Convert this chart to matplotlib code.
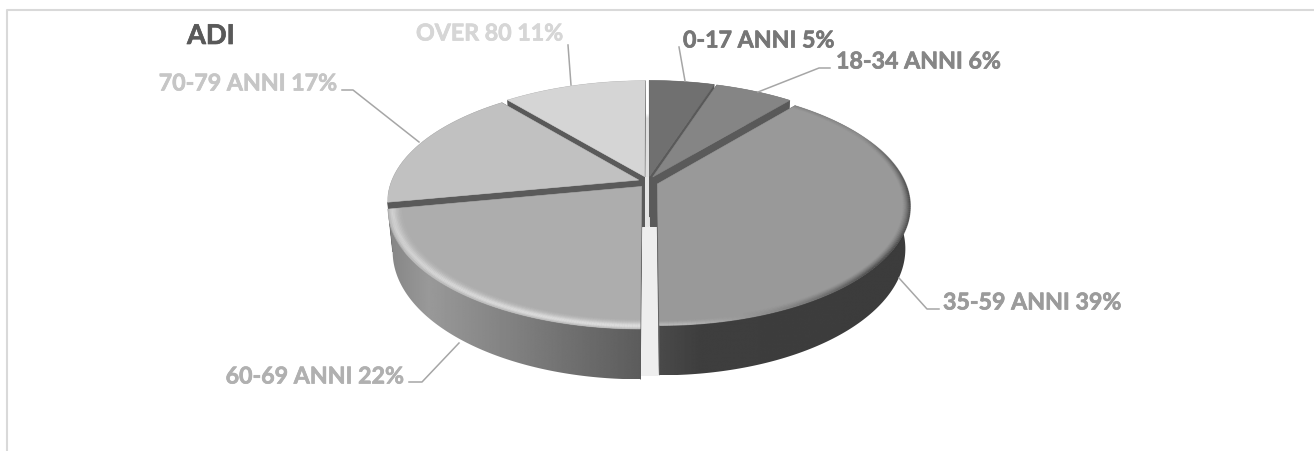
"""ADI age split as a tilted, exploded 3D pie, drawn in pixel coordinates."""
import numpy as np
import matplotlib
matplotlib.use("Agg")
import matplotlib.pyplot as plt
import matplotlib.patheffects as pe
from matplotlib.collections import LineCollection
from matplotlib.colors import to_rgb
from matplotlib.patches import Polygon

plt.rcParams["font.family"] = ["Lato", "DejaVu Sans"]

title = "ADI"
categories = ["0-17 ANNI", "18-34 ANNI", "35-59 ANNI", "60-69 ANNI", "70-79 ANNI", "OVER 80"]
shares = [5, 6, 39, 22, 17, 11]
top_colors = ["#707070", "#858585", "#999999", "#adadad", "#c1c1c1", "#d5d5d5"]
label_colors = ["#767676", "#868686", "#9b9b9b", "#b0b0b0", "#c6c6c6", "#d6d6d6"]
side_stops = [[.35, .35, .35], [.35, .35, .35], [.29, .245, .235],
              [.52, .60, .36], [.35, .35, .35], [.35, .35, .35]]

W, H = 1314, 452
CX, CY = 648, 183
R, S, DEPTH = 247.5, 115, 41
PERSP, EXPLODE, EXPLODE_Z = 0.18, 0.04, 0.05
WALL = "#5a5a5a"


def project(t, r, mid, h=0.0):
    x = r * np.sin(t) + EXPLODE * np.sin(mid)
    z = r * np.cos(t) + EXPLODE_Z * np.cos(mid)
    k = 1 / (1 + PERSP * z)
    shrink = 1 - 0.018 * h
    return np.c_[CX + R * x * k * shrink, CY - S * z * k + DEPTH * k * h]


def bevel(ax, arc, mid, radii, colors, alphas, fade, zo):
    # stacked arcs just inside the rim, colour and strength per segment
    for r, al in zip(radii, alphas):
        pts = project(arc, r, mid)
        segs = np.stack([pts[:-1], pts[1:]], axis=1)
        rgba = np.c_[colors[:-1], al * fade[:-1]]
        ax.add_collection(LineCollection(segs, colors=rgba, linewidths=1.1, capstyle="butt", zorder=zo))


fig = plt.figure(figsize=(W / 100, H / 100), dpi=100)
ax = fig.add_axes([0, 0, 1, 1])
ax.set_xlim(0, W)
ax.set_ylim(H, 0)
ax.axis("off")

# chart frame, cut off by the picture on the right and at the bottom
ax.plot([6.5, 6.5, W], [H, 10.5, 10.5], color="#d9d9d9", lw=1.5, zorder=1)

# soft shadow below the pie
full = np.linspace(0, 2 * np.pi, 240)
for grow in np.linspace(1.05, 1.0, 8):
    pts = project(full, grow, 0.0, 1.0)
    pts[:, 1] += 3
    ax.add_patch(Polygon(pts, fc="#000000", ec="none", alpha=0.017, zorder=2))

edges = np.radians(np.r_[0, np.cumsum(shares)] * 3.6)
mids = (edges[:-1] + edges[1:]) / 2
order = np.argsort(-np.cos(mids))

# light strip in the front gap
front = project(np.array([np.pi]), 1.05, 0.0, 1.0)
ax.fill_between([CX - 9, CX + 10], CY + 44, front[0, 1] + 4, color="#eeeeee", lw=0, zorder=2.5)

zo = 3
for i in order:
    a0, a1, mid = edges[i], edges[i + 1], mids[i]
    arc = np.linspace(a0, a1, 160)
    top_arc = project(arc, 1.0, mid)
    low_arc = project(arc, 1.0, mid, 1.0)
    apex = project(np.array([a0]), 0.0, mid)
    apex_low = project(np.array([a0]), 0.0, mid, 1.0)

    # cut faces
    for idx in (0, -1):
        quad = [apex[0], top_arc[idx], low_arc[idx], apex_low[0]]
        ax.add_patch(Polygon(quad, fc=WALL, ec=WALL, lw=0.5, zorder=zo))
        zo += 0.1

    # outer rim with a left to right shade
    rim = np.r_[top_arc, low_arc[::-1]]
    x0, x1 = rim[:, 0].min(), rim[:, 0].max()
    shade = np.interp(np.linspace(0, 1, 256), [0, 0.16, 1], side_stops[i])
    im = ax.imshow(shade[None, :], extent=[x0, x1, rim[:, 1].max(), rim[:, 1].min()], aspect="auto",
                   cmap="gray", vmin=0, vmax=1, interpolation="bilinear", zorder=zo)
    im.set_clip_path(Polygon(rim, transform=ax.transData))
    zo += 0.1

    # inner strips where the cut is seen at the apex
    if i == 2:
        ax.fill_between([CX - 3, CX + 1], CY - 5, CY + 45, color="#e4e4e4", lw=0, zorder=zo)
        zo += 0.1
        ax.fill_between([apex[0, 0] - 7.5, apex[0, 0]], apex[0, 1] - 3, CY + 45, color=WALL, lw=0, zorder=zo)
    if i == 3:
        tip = project(np.array([a1]), 0.0, mid)
        ax.fill_between([tip[0, 0] - 1, tip[0, 0] + 3.5], tip[0, 1] - 4, CY + 45, color=WALL, lw=0, zorder=zo)
    zo += 0.1

    # top face
    top = np.r_[apex, top_arc]
    ax.add_patch(Polygon(top, fc=top_colors[i], ec=top_colors[i], lw=0.4, zorder=zo))
    zo += 0.1

    # bevel along the outer edge
    if i == 3:
        radii = np.linspace(0.95, 1.0, 10)
        alphas = np.array([.04, .08, .14, .22, .32, .42, .45, .38, .22, .1])
        colors = np.tile(to_rgb("#ffffff"), (len(arc), 1))
        bevel(ax, arc, mid, radii, colors, alphas, np.ones(len(arc)), zo)
    if i == 2:
        radii = np.linspace(0.975, 1.0, 7)
        alphas = np.array([.04, .1, .18, .28, .4, .55, .7])
        deg = np.degrees(arc)
        mix = np.clip((deg - 130) / 45, 0, 1)[:, None]
        colors = (1 - mix) * np.array(to_rgb("#3a3a3a")) + mix * np.array(to_rgb("#bcbcbc"))
        fade = np.clip((deg - 60) / 35, 0.1, 1)
        bevel(ax, arc, mid, radii, colors, alphas, fade, zo)
    zo += 0.1

ax.text(187, 37, title, color="#595959", fontsize=19.6, fontweight="bold", va="center", zorder=50,
        path_effects=[pe.withStroke(linewidth=0.5, foreground="#595959")])

label_pos = [(683, 42, "left"), (836, 63, "left"), (943, 304, "left"),
             (404, 378, "right"), (337, 85, "right"), (563, 35, "right")]
leaders = [[(679, 48), (685, 82)],
           [(830, 69), (819, 69), (758, 93)],
           [(899, 279), (927, 310), (939, 310)],
           [(409, 383), (422, 383), (459, 344)],
           [(342, 91), (353, 91), (419, 143)],
           [(568, 46), (571, 86)]]
for i, name in enumerate(categories):
    x, y, ha = label_pos[i]
    ax.text(x, y, f"{name} {shares[i]}%", color=label_colors[i], fontsize=16.7, fontweight="bold",
            ha=ha, va="center", zorder=50,
            path_effects=[pe.withStroke(linewidth=0.5, foreground=label_colors[i])])
    lx, ly = zip(*leaders[i])
    ax.plot(lx, ly, color="#a6a6a6", lw=1.1, zorder=49)

fig.savefig("out.png", dpi=100)
